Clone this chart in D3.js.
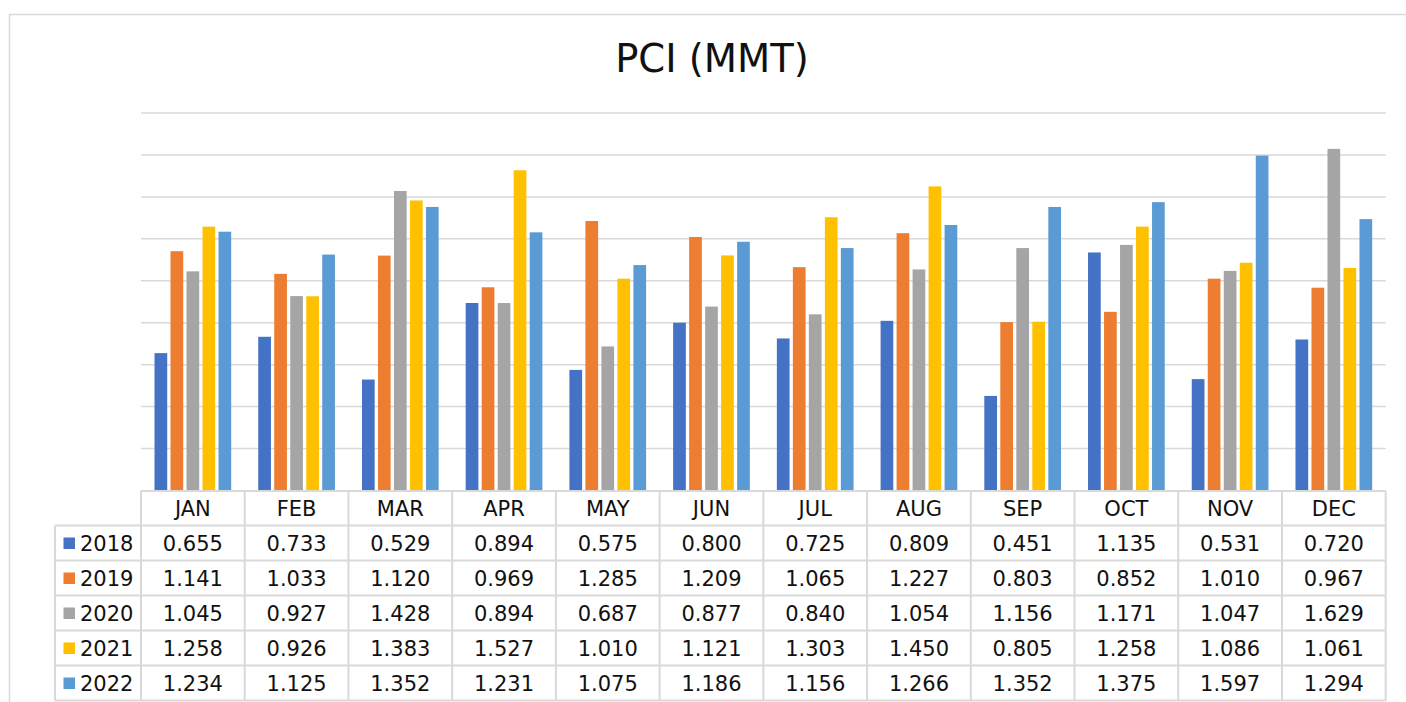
<!DOCTYPE html>
<html>
<head>
<meta charset="utf-8">
<script src="https://cdn.jsdelivr.net/npm/d3@7"></script>
<style>
  html, body { margin: 0; padding: 0; background: #fff; }
  svg { display: block; }
  text { font-family: "DejaVu Sans", Verdana, sans-serif; fill: #111; }
</style>
</head>
<body>
<svg id="chart" width="1406" height="702"></svg>
<script>
const months = ["JAN","FEB","MAR","APR","MAY","JUN","JUL","AUG","SEP","OCT","NOV","DEC"];
const years = ["2018","2019","2020","2021","2022"];
const colors = ["#4472C4","#ED7D31","#A5A5A5","#FFC000","#5B9BD5"];
const v2018 = [0.655,0.733,0.529,0.894,0.575,0.800,0.725,0.809,0.451,1.135,0.531,0.720];
const v2019 = [1.141,1.033,1.120,0.969,1.285,1.209,1.065,1.227,0.803,0.852,1.010,0.967];
const v2020 = [1.045,0.927,1.428,0.894,0.687,0.877,0.840,1.054,1.156,1.171,1.047,1.629];
const v2021 = [1.258,0.926,1.383,1.527,1.010,1.121,1.303,1.450,0.805,1.258,1.086,1.061];
const v2022 = [1.234,1.125,1.352,1.231,1.075,1.186,1.156,1.266,1.352,1.375,1.597,1.294];
const gridTicks = [0.2,0.4,0.6,0.8,1.0,1.2,1.4,1.6,1.8];
const title = "PCI (MMT)";

(function () {
const series = [v2018, v2019, v2020, v2021, v2022];

const svg = d3.select("#chart");
const grid = "#d9d9d9";

svg.append("path")
  .attr("d", "M9.5,702 V14.5 H1406")
  .attr("fill", "none").attr("stroke", grid).attr("stroke-width", 1.5);

svg.append("text")
  .attr("x", 712).attr("y", 72)
  .attr("text-anchor", "middle")
  .style("font-size", "38.5px")
  .text(title);

const pLeft = 141, pRight = 1385.7, pTop = 113, pBottom = 490.5;
const x0 = d3.scaleBand().domain(months).range([pLeft, pRight]).paddingInner(0).paddingOuter(0);
const bw = x0.bandwidth();
const x1 = d3.scaleBand().domain(years).range([bw/2 - 40, bw/2 + 40]);
const y = d3.scaleLinear().domain([0, 1.8]).range([pBottom, pTop]);

svg.append("g").selectAll("line").data(gridTicks).join("line")
  .attr("x1", pLeft).attr("x2", pRight)
  .attr("y1", d => y(d)).attr("y2", d => y(d))
  .attr("stroke", grid).attr("stroke-width", 1.5);

const barW = 12.7;
years.forEach((yr, si) => {
  svg.append("g").selectAll("rect").data(series[si]).join("rect")
    .attr("x", (d, i) => x0(months[i]) + x1(yr) + (x1.bandwidth() - barW) / 2)
    .attr("y", d => y(d))
    .attr("width", barW)
    .attr("height", d => y(0) - y(d))
    .attr("fill", colors[si]);
});

const headerTop = 491, headerH = 34.5, rowH = 35, legLeft = 55;
const fs = "21px";
const tbl = svg.append("g");
const lineAttr = sel => sel.attr("stroke", grid).attr("stroke-width", 2).attr("fill", "none");

tbl.append("line").attr("x1", pLeft).attr("x2", pRight).attr("y1", headerTop).attr("y2", headerTop).call(lineAttr);
for (let r = 0; r <= years.length; r++) {
  const yy = headerTop + headerH + r * rowH;
  tbl.append("line").attr("x1", legLeft).attr("x2", pRight).attr("y1", yy).attr("y2", yy).call(lineAttr);
}
const tableBottom = headerTop + headerH + years.length * rowH;
months.forEach((m) => {
  tbl.append("line").attr("x1", x0(m)).attr("x2", x0(m)).attr("y1", headerTop).attr("y2", tableBottom).call(lineAttr);
});
tbl.append("line").attr("x1", pRight).attr("x2", pRight).attr("y1", headerTop).attr("y2", tableBottom).call(lineAttr);
tbl.append("line").attr("x1", legLeft).attr("x2", legLeft).attr("y1", headerTop + headerH).attr("y2", tableBottom).call(lineAttr);

tbl.selectAll("text.m").data(months).join("text")
  .attr("class", "m")
  .attr("x", d => x0(d) + bw / 2)
  .attr("y", headerTop + headerH / 2 + 7.5)
  .attr("text-anchor", "middle")
  .style("font-size", fs)
  .text(d => d);

years.forEach((yr, si) => {
  const rowTop = headerTop + headerH + si * rowH;
  tbl.append("rect")
    .attr("x", 63.5).attr("y", rowTop + rowH / 2 - 5.5)
    .attr("width", 11.5).attr("height", 11.5)
    .attr("fill", colors[si]);
  tbl.append("text")
    .attr("x", 80).attr("y", rowTop + rowH / 2 + 7.5)
    .style("font-size", fs)
    .text(yr);
  tbl.append("g").selectAll("text").data(series[si]).join("text")
    .attr("x", (d, i) => x0(months[i]) + bw / 2)
    .attr("y", rowTop + rowH / 2 + 7.5)
    .attr("text-anchor", "middle")
    .style("font-size", fs)
    .text(d => d3.format(".3f")(d));
});
})();
</script>
</body>
</html>
